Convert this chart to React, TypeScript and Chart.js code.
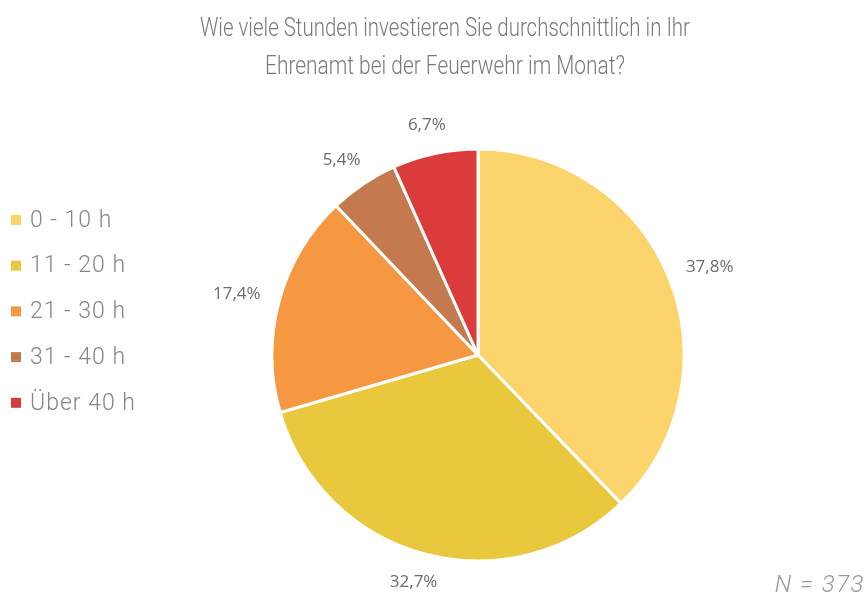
import React, { useEffect, useRef } from "react";
import { Chart, registerables } from "chart.js";

Chart.register(...registerables);

const titleLines = [
  "Wie viele Stunden investieren Sie durchschnittlich in Ihr",
  "Ehrenamt bei der Feuerwehr im Monat?",
];
const categories = ["0 - 10 h", "11 - 20 h", "21 - 30 h", "31 - 40 h", "Über 40 h"];
const values = [37.8, 32.7, 17.4, 5.4, 6.7];
const colors = ["#FBD46B", "#E9C83E", "#F69842", "#C5794E", "#DC3B3C"];
const noteText = "N = 373";

const fmt = (v: number) => v.toFixed(1).replace(".", ",") + "%";

const overlayPlugin = {
  id: "overlay",
  afterDraw(chart: any) {
    const ctx = chart.ctx as any;
    ctx.save();

    // Title
    ctx.fillStyle = "#7a7a7a";
    ctx.textAlign = "center";
    ctx.textBaseline = "middle";
    ctx.font = '300 25px Roboto, "Noto Sans", sans-serif';
    ctx.fillText(titleLines[0], 445, 30, 490);
    ctx.fillText(titleLines[1], 445, 68, 360);

    // Legend
    ctx.textAlign = "left";
    ctx.font = '300 23px Roboto, "Noto Sans", sans-serif';
    ctx.letterSpacing = "1px";
    const legendTop = 220;
    const legendStep = 45.7;
    categories.forEach((c, i) => {
      const y = legendTop + i * legendStep;
      ctx.fillStyle = colors[i];
      ctx.fillRect(11, y - 5, 10, 10);
      ctx.fillStyle = "#868686";
      ctx.fillText(c, 30, y + 1);
    });
    ctx.letterSpacing = "0px";

    // Data labels
    const meta = chart.getDatasetMeta(0);
    ctx.font = '500 17px "Open Sans", sans-serif';
    ctx.fillStyle = "#6b6b6b";
    ctx.textAlign = "center";
    meta.data.forEach((arc: any, i: number) => {
      const p = arc.getProps(["x", "y", "startAngle", "endAngle", "outerRadius"], true);
      const mid = (p.startAngle + p.endAngle) / 2;
      const dx = Math.cos(mid);
      const dy = Math.sin(mid);
      const label = fmt(values[i]);
      const w = ctx.measureText(label).width;
      const h = 18;
      const d = p.outerRadius + 20;
      const x = p.x + dx * d + dx * (w / 2);
      const y = p.y + dy * d + dy * (h / 2);
      ctx.fillText(label, x, y);
    });

    // Note
    ctx.textAlign = "right";
    ctx.font = 'italic 300 24px Roboto, "Noto Sans", sans-serif';
    ctx.letterSpacing = "1.5px";
    ctx.fillStyle = "#9a9a9a";
    ctx.fillText(noteText, 865, 586);
    ctx.letterSpacing = "0px";

    ctx.restore();
  },
};

export default function App() {
  const ref = useRef<HTMLCanvasElement | null>(null);
  useEffect(() => {
    if (!ref.current) return;
    const chart = new Chart(ref.current, {
      type: "pie",
      data: {
        labels: categories,
        datasets: [
          {
            data: values,
            backgroundColor: colors,
            borderColor: "#ffffff",
            borderWidth: 3,
          },
        ],
      },
      options: {
        responsive: false,
        animation: false,
        layout: { padding: { left: 270.5, right: 180.5, top: 147.5, bottom: 38.5 } },
        plugins: {
          legend: { display: false },
          title: { display: false },
          tooltip: { enabled: false },
        },
      },
      plugins: [overlayPlugin],
    });
    return () => chart.destroy();
  }, []);
  return (
    <div style={{ position: "fixed", left: 0, top: 0, width: 866, height: 601, background: "#fff" }}>
      <canvas ref={ref} width={866} height={601} />
    </div>
  );
}
